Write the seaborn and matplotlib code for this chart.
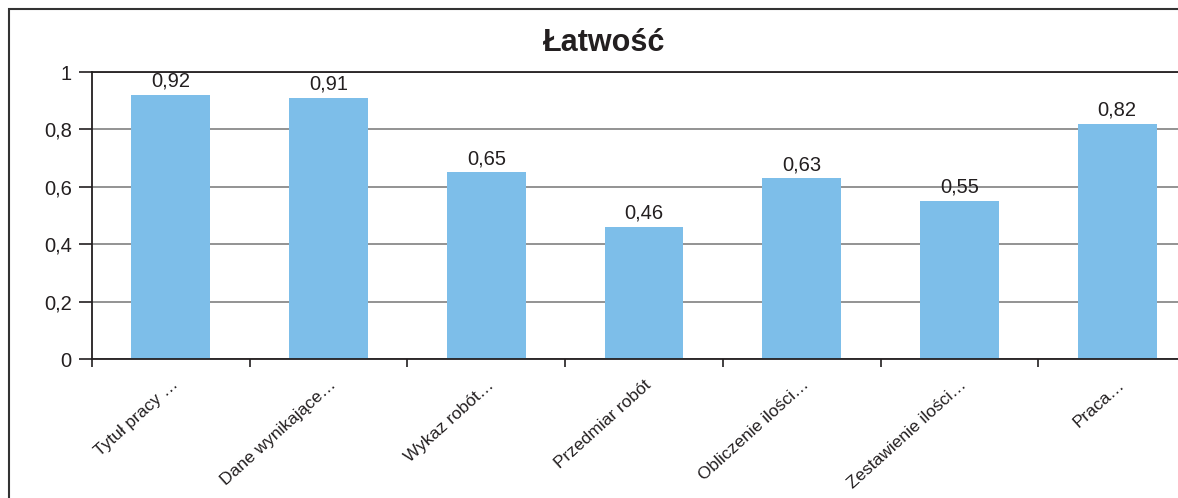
import matplotlib.pyplot as plt
from matplotlib.patches import Rectangle
import numpy as np
import pandas as pd
import seaborn as sns

# dane wykresu
kategorie = ["Tytuł pracy …", "Dane wynikające…", "Wykaz robót…", "Przedmiar robót",
             "Obliczenie ilości…", "Zestawienie ilości…", "Praca…"]
latwosc = [0.92, 0.91, 0.65, 0.46, 0.63, 0.55, 0.82]
y_ticks = [0, 0.2, 0.4, 0.6, 0.8, 1]
y_tick_labels = ["0", "0,2", "0,4", "0,6", "0,8", "1"]
tytul = "Łatwość"

sns.set_style("white")
plt.rcParams['font.family'] = ['Liberation Sans', 'DejaVu Sans']
kolor_tekstu = '#231f20'

W, H = 1178, 498
fig = plt.figure(figsize=(W / 100, H / 100), dpi=100)
ax = fig.add_axes([92 / W, (H - 359) / H, 1104 / W, 287 / H])

df = pd.DataFrame({'kategoria': kategorie, 'wartosc': latwosc})
sns.barplot(data=df, x='kategoria', y='wartosc', color='#7DBEE9', width=0.5,
            saturation=1, linewidth=0, ax=ax)

ax.set_xlim(-0.5, len(kategorie) - 0.5)
ax.set_ylim(0, 1)
ax.set_xlabel('')
ax.set_ylabel('')

# oś Y
ax.set_yticks(y_ticks)
ax.set_yticklabels(y_tick_labels, fontsize=14.5, color=kolor_tekstu)
ax.tick_params(axis='y', direction='out', length=9.5, width=1.2, pad=5, color='#231f20', left=True)
ax.yaxis.grid(True, color='#8a8a8a', lw=1.3)
ax.set_axisbelow(True)

# oś X
ax.set_xticks(range(len(kategorie)))
ax.set_xticklabels(kategorie, rotation=42, ha='right', rotation_mode='anchor',
                   fontsize=12.5, color=kolor_tekstu)
ax.tick_params(axis='x', which='major', length=0, pad=13)
ax.set_xticks(np.arange(-0.5, len(kategorie)), minor=True)
ax.tick_params(axis='x', which='minor', direction='out', length=6, width=1.2,
               color='#231f20', bottom=True)

for s in ['left', 'bottom', 'top']:
    ax.spines[s].set_visible(True)
    ax.spines[s].set_color('#231f20')
    ax.spines[s].set_linewidth(1.3)
ax.spines['right'].set_visible(False)

# etykiety wartości
etykiety = [f"{v:.2f}".replace('.', ',') for v in latwosc]
ax.bar_label(ax.containers[0], labels=etykiety, padding=3, fontsize=14.5, color=kolor_tekstu)

# tytuł
fig.text(604 / W, 1 - 43 / H, tytul, ha='center', va='center', fontsize=22,
         fontweight='bold', color=kolor_tekstu)

# ramka wykresu
fig.add_artist(Rectangle((9 / W, -0.2), 1.5, 1.2 - 9 / H, transform=fig.transFigure,
                         fill=False, edgecolor='#333333', lw=1.5))

fig.savefig('out.png', dpi=100)
